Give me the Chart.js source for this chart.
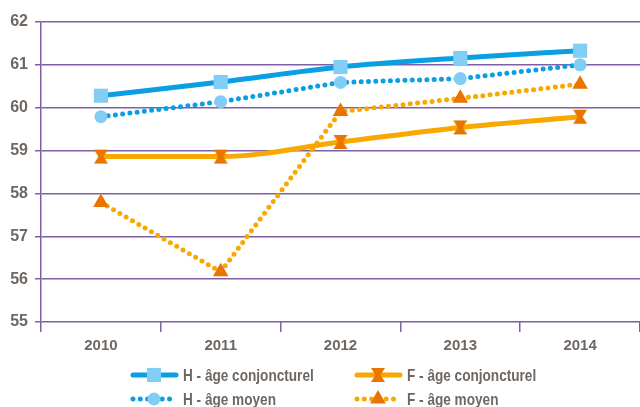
<!DOCTYPE html>
<html>
<head>
<meta charset="utf-8">
<script src="https://cdn.jsdelivr.net/npm/chart.js@4/dist/chart.umd.min.js"></script>
<style>
html,body{margin:0;padding:0;background:#fff;}
#wrap{width:640px;height:407px;position:relative;}
</style>
</head>
<body>
<div id="wrap"><canvas id="c" width="640" height="407"></canvas></div>
<script>
const years = ['2010','2011','2012','2013','2014'];
const hConj = [60.28, 60.60, 60.95, 61.16, 61.33];
const hMoy  = [59.79, 60.14, 60.59, 60.68, 61.00];
const fConj = [58.86, 58.86, 59.20, 59.54, 59.79];
const fMoy  = [57.79, 56.17, 59.91, 60.22, 60.55];
const seriesNames = ['H - âge conjoncturel','H - âge moyen','F - âge conjoncturel','F - âge moyen'];

const BLUE='#0a9ee2', LBLUE='#82cdf4', ORANGE='#f8a800', DORANGE='#e97500', PURPLE='#7f5fa6', TXT='#6e6762';
const FONT = "'Liberation Sans',Arial,sans-serif";

function hourglass(){
  const c=document.createElement('canvas'); c.width=16; c.height=16;
  const g=c.getContext('2d'); g.fillStyle=DORANGE;
  g.beginPath();
  g.moveTo(1,1); g.lineTo(15,1); g.lineTo(10.5,8); g.lineTo(15,15); g.lineTo(1,15); g.lineTo(5.5,8); g.closePath();
  g.fill();
  return c;
}
const hg = hourglass();

const legendPlugin = {
  id:'customLegend',
  afterDraw(chart){
    const ctx=chart.ctx;
    const items=[
      {x:131,y:375,ds:0},{x:131,y:399,ds:1},{x:355,y:375,ds:2},{x:355,y:399,ds:3}
    ];
    items.forEach(it=>{
      const ds=chart.data.datasets[it.ds];
      const mx=it.x+23;
      ctx.save();
      ctx.strokeStyle=ds.borderColor; ctx.lineWidth=ds.borderWidth;
      ctx.lineCap='round';
      ctx.setLineDash(ds.borderDash||[]);
      ctx.beginPath(); ctx.moveTo(it.x+2,it.y); ctx.lineTo(it.x+45,it.y); ctx.stroke();
      ctx.setLineDash([]);
      ctx.fillStyle=ds.pointBackgroundColor;
      if(ds.pointStyle instanceof HTMLCanvasElement){
        ctx.drawImage(ds.pointStyle,mx-8,it.y-8);
      } else {
        ctx.beginPath();
        const r=ds.pointRadius;
        if(ds.pointStyle==='rect'){const s=r*Math.SQRT1_2;ctx.rect(mx-s,it.y-s,2*s,2*s);}
        else if(ds.pointStyle==='circle'){ctx.arc(mx,it.y,r,0,Math.PI*2);}
        else if(ds.pointStyle==='triangle'){const y=it.y;ctx.moveTo(mx,y-r);ctx.lineTo(mx+r*0.866,y+r*0.5);ctx.lineTo(mx-r*0.866,y+r*0.5);ctx.closePath();}
        ctx.fill();
      }
      ctx.fillStyle=TXT; ctx.font="bold 17px "+FONT; ctx.textBaseline='middle'; ctx.textAlign='left';
      ctx.translate(it.x+52,it.y+1);
      ctx.scale(0.8,1);
      ctx.fillText(seriesNames[it.ds],0,0);
      ctx.restore();
    });
  }
};

new Chart(document.getElementById('c'),{
  type:'line',
  data:{
    labels:years,
    datasets:[
      {label:seriesNames[0],data:hConj,borderColor:BLUE,borderWidth:5,pointStyle:'rect',pointRadius:10,pointHoverRadius:10,pointBackgroundColor:LBLUE,pointBorderWidth:0,cubicInterpolationMode:'monotone',order:4},
      {label:seriesNames[1],data:hMoy,borderColor:BLUE,borderWidth:5,borderDash:[0,7.3],borderCapStyle:'round',pointStyle:'circle',pointRadius:6.5,pointHoverRadius:6.5,pointBackgroundColor:LBLUE,pointBorderWidth:0,tension:0,order:3},
      {label:seriesNames[2],data:fConj,borderColor:ORANGE,borderWidth:5,pointStyle:hg,pointRadius:8,pointBackgroundColor:DORANGE,pointBorderWidth:0,cubicInterpolationMode:'monotone',order:2},
      {label:seriesNames[3],data:fMoy,borderColor:ORANGE,borderWidth:5,borderDash:[0,7.3],borderCapStyle:'round',pointStyle:'triangle',pointRadius:9,pointHoverRadius:9,pointBackgroundColor:DORANGE,pointBorderWidth:0,tension:0,order:1}
    ]
  },
  options:{
    responsive:false,animation:false,
    layout:{autoPadding:false,padding:{left:0,right:0,top:22,bottom:50}},
    plugins:{legend:{display:false},tooltip:{enabled:false}},
    scales:{
      x:{
        offset:true,
        afterFit(s){s.paddingLeft=0;s.paddingRight=0;s.height=35;},
        grid:{display:true,offset:true,drawOnChartArea:false,drawTicks:true,tickLength:10,color:PURPLE,lineWidth:1.5},
        border:{display:false},
        ticks:{color:TXT,font:{family:FONT,size:15,weight:'bold'},padding:5}
      },
      y:{
        min:55,max:62,
        afterFit(s){s.width=41;s.paddingTop=0;s.paddingBottom=0;},
        ticks:{stepSize:1,color:TXT,font:{family:FONT,size:16,weight:'bold'},padding:7},
        grid:{color:PURPLE,lineWidth:1.5,tickLength:6},
        border:{display:true,color:PURPLE,width:1.5}
      }
    }
  },
  plugins:[legendPlugin]
});
</script>
</body>
</html>
